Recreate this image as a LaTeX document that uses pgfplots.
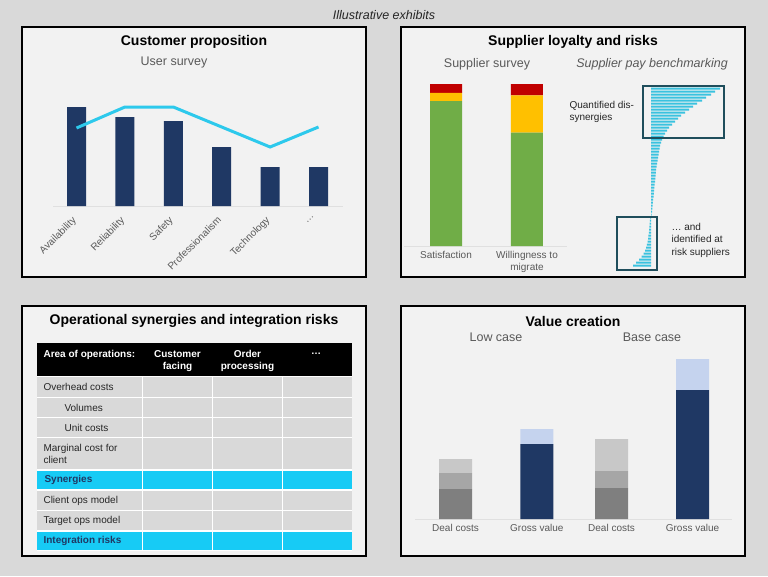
\documentclass[border=0pt]{standalone}
\usepackage{fontspec}
\setmainfont{Liberation Sans}
\usepackage{pgfplots}
\usepackage{pgfplotstable}
\pgfplotsset{compat=1.18}

\definecolor{bgouter}{HTML}{D9D9D9}
\definecolor{panel}{HTML}{F2F2F2}
\definecolor{navy}{HTML}{1F3864}
\definecolor{cyanline}{HTML}{2DC9EC}
\definecolor{tcyan}{HTML}{17CBF5}
\definecolor{gtext}{HTML}{595959}
\definecolor{cellgray}{HTML}{D9D9D9}
\definecolor{bench}{HTML}{3AC2DF}
\definecolor{tealbox}{HTML}{1F4E5C}
\definecolor{lblue}{HTML}{C5D3EE}
\definecolor{gA}{HTML}{7F7F7F}
\definecolor{gB}{HTML}{A6A6A6}
\definecolor{gC}{HTML}{C8C8C8}
\definecolor{sgreen}{HTML}{70AD47}
\definecolor{syellow}{HTML}{FFC000}
\definecolor{sred}{HTML}{C00000}
\definecolor{dtext}{HTML}{262626}

\newcommand\titlef{\fontsize{14}{17}\selectfont\bfseries}
\newcommand\subf{\fontsize{12.5}{15}\selectfont}
\newcommand\smallf{\fontsize{10}{12}\selectfont}

\pgfplotstableread{
i v
0 69
1 64
2 60
3 55
4 51
5 46
6 42
7 38
8 34
9 30
10 27
11 24
12 21
13 18
14 16
15 14
16 12.5
17 11
18 10
19 9
20 8.5
21 8
22 7.5
23 7
24 6.5
25 6
26 5.6
27 5.2
28 4.9
29 4.6
30 4.3
31 4
32 3.7
33 3.4
34 3.1
35 2.8
36 2.5
37 2.2
38 1.9
39 1.6
40 1.3
41 1
42 0.7
43 -1
44 -1.2
45 -1.4
46 -1.6
47 -1.9
48 -2.2
49 -2.6
50 -3
51 -3.5
52 -4.2
53 -5
54 -6
55 -7.5
56 -9.5
57 -12
58 -15
59 -18
}\benchdata

\begin{document}
\begin{tikzpicture}
\fill[bgouter] (0pt,0pt) rectangle (768pt,-576pt);
\begin{scope}[x=1pt,y=-1pt]
  \foreach \x/\y in {22/27,401/27,22/306,401/306}
    \filldraw[fill=panel, draw=black, line width=2pt] (\x,\y) rectangle ++(344,250);
  \node[font=\fontsize{12.5}{15}\selectfont\itshape, text=dtext] at (384,15) {Illustrative exhibits};
  % panel 1
  \node[font=\titlef] at (194,42) {Customer proposition};
  \node[font=\subf, text=gtext] at (174,62) {User survey};
  % panel 2
  \node[font=\titlef] at (573,42) {Supplier loyalty and risks};
  \node[font=\subf, text=gtext] at (487,64) {Supplier survey};
  \node[font=\subf\itshape, text=gtext] at (652,64) {Supplier pay benchmarking};
  \node[anchor=west, align=left, font=\smallf, text=dtext] at (566,112) {Quantified dis-\\synergies};
  \node[anchor=west, align=left, font=\fontsize{10}{12.5}\selectfont, text=dtext] at (668,240) {\ldots\ and\\identified at\\risk suppliers};
  % panel 3
  \node[font=\titlef] at (194,321) {Operational synergies and integration risks};
  \fill[white] (37,376) rectangle (352,551);
  \fill[black] (37,343) rectangle (352,376);
  \foreach \ya/\yb/\c in {377.3/396.7/cellgray, 397.7/416.7/cellgray, 418.3/437.3/cellgray, 438.3/469.3/cellgray, 470.7/489.3/tcyan, 490.7/510/cellgray, 511/530/cellgray, 531.7/550/tcyan}
    \foreach \xa/\xb in {37/141.7, 143.3/211.7, 213.3/281.7, 283.3/351.7}
      \fill[\c] (\xa,\ya) rectangle (\xb,\yb);
  \begin{scope}[every node/.style={font=\smallf\bfseries, text=white}]
    \node[anchor=west] at (40,355) {Area of operations:};
    \node[align=center, font=\fontsize{10}{12}\selectfont\bfseries] at (177.5,361) {Customer\\facing};
    \node[align=center, font=\fontsize{10}{12}\selectfont\bfseries] at (247.5,361) {Order\\processing};
    \node at (316,354) {\ldots};
  \end{scope}
  \begin{scope}[every node/.style={font=\smallf, text=dtext, anchor=west}]
    \node at (40,387) {Overhead costs};
    \node at (61,407.5) {Volumes};
    \node at (61,428) {Unit costs};
    \node[align=left] at (40,454) {Marginal cost for\\client};
    \node[font=\smallf\bfseries, text=navy] at (41,480) {Synergies};
    \node at (40,500.5) {Client ops model};
    \node at (40,520.5) {Target ops model};
    \node[font=\smallf\bfseries, text=navy] at (40,541) {Integration risks};
  \end{scope}
  % panel 4
  \node[font=\titlef] at (573,321) {Value creation};
  \node[font=\subf, text=gtext] at (496,337) {Low case};
  \node[font=\subf, text=gtext] at (652,337) {Base case};
\end{scope}

% panel 1 chart
\begin{axis}[at={(53pt,-206pt)}, anchor=south west, scale only axis,
  width=290pt, height=100pt, xmin=-0.486, xmax=5.506, ymin=0, ymax=100,
  axis y line=none, axis x line=bottom,
  x axis line style={draw=black!12, line width=0.8pt, -},
  xtick={0,...,5},
  xticklabels={Availability,Reliability,Safety,Professionalism,Technology,\ldots},
  xtick style={draw=none},
  xticklabel style={xshift=-5pt, yshift=-6pt, rotate=45, anchor=north east, text=gtext, font=\smallf, inner sep=1pt},
  clip=false]
  \addplot[ybar, bar width=19pt, fill=navy, draw=none] coordinates {(0,99) (1,89) (2,85) (3,59) (4,39) (5,39)};
  \addplot[cyanline, line width=3pt, mark=none] coordinates {(0,78) (1,99) (2,99) (3,79) (4,59) (5,79)};
\end{axis}

% panel 2 stacked chart
\begin{axis}[at={(404pt,-246pt)}, anchor=south west, scale only axis,
  width=163pt, height=162pt, xmin=-0.5185, xmax=1.494, ymin=0, ymax=100,
  ybar stacked, bar width=32pt,
  axis y line=none, axis x line=bottom,
  x axis line style={draw=black!12, line width=0.8pt, -},
  xtick={0,1},
  xticklabels={Satisfaction,{Willingness to\\migrate}},
  xtick style={draw=none},
  xticklabel style={align=center, text=gtext, font=\smallf},
  clip=false]
  \addplot[fill=sgreen, draw=none] coordinates {(0,89.5) (1,70)};
  \addplot[fill=syellow, draw=none] coordinates {(0,5) (1,23)};
  \addplot[fill=sred, draw=none] coordinates {(0,5.5) (1,7)};
\end{axis}

% panel 2 benchmarking
\begin{axis}[at={(631pt,-87pt)}, anchor=north west, scale only axis,
  width=92pt, height=180pt, xmin=-20, xmax=72, ymin=-0.5, ymax=59.5,
  y dir=reverse, xbar, bar width=2pt, axis lines=none, ticks=none, clip=false]
  \addplot[fill=bench, draw=none] table[x=v, y=i] {\benchdata};
\end{axis}

% panel 4 chart
\begin{axis}[at={(415pt,-519pt)}, anchor=south west, scale only axis,
  width=317pt, height=160pt, xmin=-0.513, xmax=3.5, ymin=0, ymax=160,
  ybar stacked, bar width=33pt,
  axis y line=none, axis x line=bottom,
  x axis line style={draw=black!12, line width=0.8pt, -},
  xtick={0,1.03,1.975,3},
  xticklabels={Deal costs,Gross value,Deal costs,Gross value},
  xtick style={draw=none},
  xticklabel style={text=gtext, font=\smallf},
  clip=false]
  \addplot[fill=gA, draw=none] coordinates {(0,30) (1.03,0) (1.975,31) (3,0)};
  \addplot[fill=gB, draw=none] coordinates {(0,16) (1.03,0) (1.975,17) (3,0)};
  \addplot[fill=gC, draw=none] coordinates {(0,14) (1.03,0) (1.975,32) (3,0)};
  \addplot[fill=navy, draw=none] coordinates {(0,0) (1.03,75) (1.975,0) (3,129)};
  \addplot[fill=lblue, draw=none] coordinates {(0,0) (1.03,15) (1.975,0) (3,31)};
\end{axis}

\begin{scope}[x=1pt,y=-1pt]
  \draw[tealbox, line width=2pt] (643,86) rectangle (724,138);
  \draw[tealbox, line width=2pt] (617,217) rectangle (657,270);
\end{scope}

\pgfresetboundingbox
\path[use as bounding box] (0pt,0pt) rectangle (768pt,-576pt);
\end{tikzpicture}
\end{document}
